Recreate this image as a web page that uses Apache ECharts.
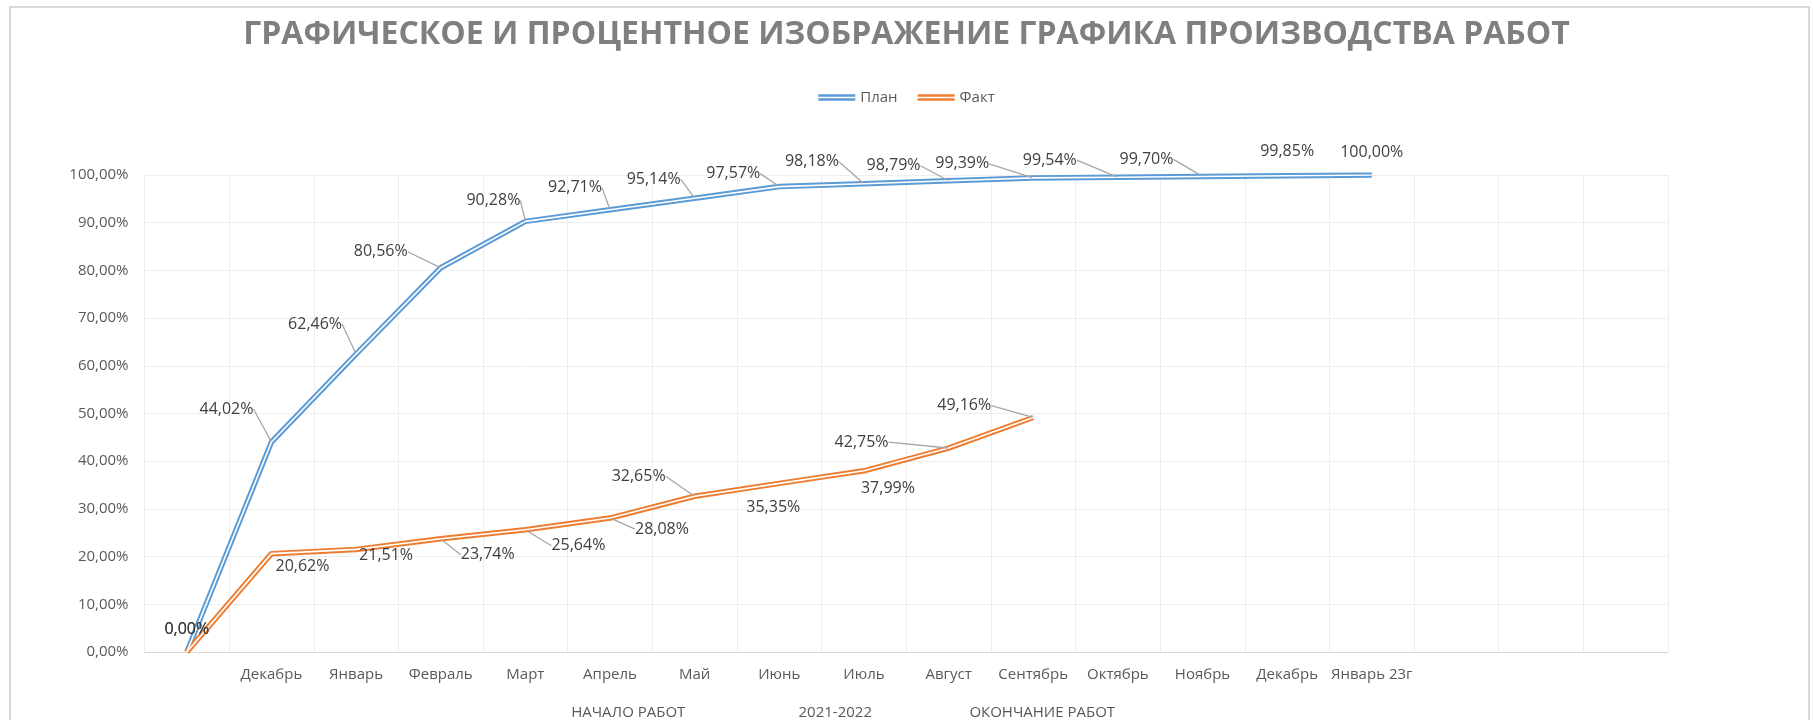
<!DOCTYPE html>
<html>
<head>
<meta charset="utf-8">
<script src="https://cdn.jsdelivr.net/npm/echarts@6/dist/echarts.min.js"></script>
<style>
  html, body { margin: 0; padding: 0; background: #fff; }
  #frame { position: absolute; left: 9px; top: 6px; width: 1797px; height: 740px;
           border: 2px solid #d9d9d9; border-bottom: none; pointer-events: none; }
  #chart { position: absolute; left: 0; top: 0; width: 1813px; height: 720px; }
</style>
</head>
<body>
<div id="frame"></div>
<div id="chart"></div>
<script>
// категории оси X (первая и последние три пустые, как в исходнике)
const months = ['', 'Декабрь', 'Январь', 'Февраль', 'Март', 'Апрель', 'Май', 'Июнь', 'Июль',
  'Август', 'Сентябрь', 'Октябрь', 'Ноябрь', 'Декабрь', 'Январь 23г', '', '', ''];

const planValues = [0, 44.02, 62.46, 80.56, 90.28, 92.71, 95.14, 97.57, 98.18, 98.79, 99.39, 99.54, 99.70, 99.85, 100.00];
const factValues = [0, 20.62, 21.51, 23.74, 25.64, 28.08, 32.65, 35.35, 37.99, 42.75, 49.16];

const yTicks = { min: 0, max: 100, interval: 10 };

// смещения подписей от точки и выноски (как в Excel)
const planLabelShift = [[0, -23], [-45, -33], [-41, -30], [-60, -16], [-32, -21], [-35, -22], [-41, -19],
  [-46, -13], [-52, -22], [-55, -15], [-71, -14], [-68, -17], [-56, -17], [0, -24], [0, -23]];
const planLeader = [0, 1, 1, 1, 1, 1, 1, 1, 1, 1, 1, 1, 1, 0, 0];
const factLabelShift = [[0, -23], [31, 13], [30, 6], [47, 16], [53, 16], [52, 11], [-56, -20],
  [-6, 24], [24, 18], [-87, -6], [-69, -12]];
const factLeader = [0, 0, 0, 1, 1, 1, 1, 0, 0, 1, 1];

const BLUE = '#5b9bd5';
const ORANGE = '#ed7d31';
const FONT = 'Open Sans';

const pct = v => v.toFixed(2).replace('.', ',') + '%';
const doubleIcon = 'path://M0,0H40V2.6H0Z M0,4.4H40V7H0Z';

const chart = echarts.init(document.getElementById('chart'));

function colorLine(name, values, color) {
  return {
    name: name,
    type: 'line',
    data: values,
    symbol: 'none',
    silent: true,
    z: 2,
    color: color,
    lineStyle: { color: color, width: 5.5 }
  };
}

function whiteLine(name, values, shifts, leaders) {
  return {
    name: name,
    type: 'line',
    data: values.map((v, i) => ({ value: v, labelLine: { show: !!leaders[i] } })),
    symbol: 'circle',
    symbolSize: 2,
    silent: true,
    z: 3,
    itemStyle: { color: 'rgba(0,0,0,0)' },
    lineStyle: { color: '#ffffff', width: 1.6 },
    label: {
      show: true,
      position: 'inside',
      color: '#404040',
      fontFamily: FONT,
      fontSize: 16,
      formatter: p => pct(p.value)
    },
    labelLine: {
      show: true,
      lineStyle: { color: '#a6a6a6', width: 1.3 }
    },
    labelLayout: p => ({ dx: shifts[p.dataIndex][0], dy: shifts[p.dataIndex][1] })
  };
}

const option = {
  backgroundColor: 'transparent',
  animation: false,
  title: {
    text: 'ГРАФИЧЕСКОЕ И ПРОЦЕНТНОЕ ИЗОБРАЖЕНИЕ ГРАФИКА ПРОИЗВОДСТВА РАБОТ',
    left: 'center',
    top: 14,
    textStyle: { fontFamily: FONT, fontSize: 32, fontWeight: 'bold', color: '#7f7f7f' }
  },
  legend: {
    top: 85,
    left: 'center',
    itemWidth: 37,
    itemHeight: 7,
    itemGap: 20,
    data: [
      { name: 'План', icon: doubleIcon },
      { name: 'Факт', icon: doubleIcon }
    ],
    textStyle: { fontFamily: FONT, fontSize: 15, color: '#595959' }
  },
  grid: { left: 144.5, right: 145, top: 175, bottom: 68, outerBoundsMode: 'none' },
  xAxis: {
    type: 'category',
    data: months,
    boundaryGap: true,
    axisLine: { lineStyle: { color: '#d9d9d9', width: 1 } },
    axisTick: { show: false },
    axisLabel: { interval: 0, margin: 15, color: '#595959', fontFamily: FONT, fontSize: 15 },
    splitLine: { show: true, interval: 0, lineStyle: { color: '#eeeeee', width: 1 } },
    name: '{a|НАЧАЛО РАБОТ}{a|2021-2022}{a|ОКОНЧАНИЕ РАБОТ}',
    nameLocation: 'middle',
    nameGap: 53,
    nameTextStyle: {
      padding: [0, 142, 0, 0],
      rich: { a: { width: 207, align: 'center', fontFamily: FONT, fontSize: 15, color: '#595959' } }
    }
  },
  yAxis: {
    type: 'value',
    min: yTicks.min,
    max: yTicks.max,
    interval: yTicks.interval,
    axisLine: { show: false },
    axisTick: { show: false },
    axisLabel: { margin: 16, color: '#595959', fontFamily: FONT, fontSize: 15, formatter: v => pct(v) },
    splitLine: { lineStyle: { color: '#eeeeee', width: 1 } }
  },
  series: [
    colorLine('План', planValues, BLUE),
    whiteLine('План-контур', planValues, planLabelShift, planLeader),
    colorLine('Факт', factValues, ORANGE),
    whiteLine('Факт-контур', factValues, factLabelShift, factLeader)
  ]
};

chart.setOption(option);
</script>
</body>
</html>
